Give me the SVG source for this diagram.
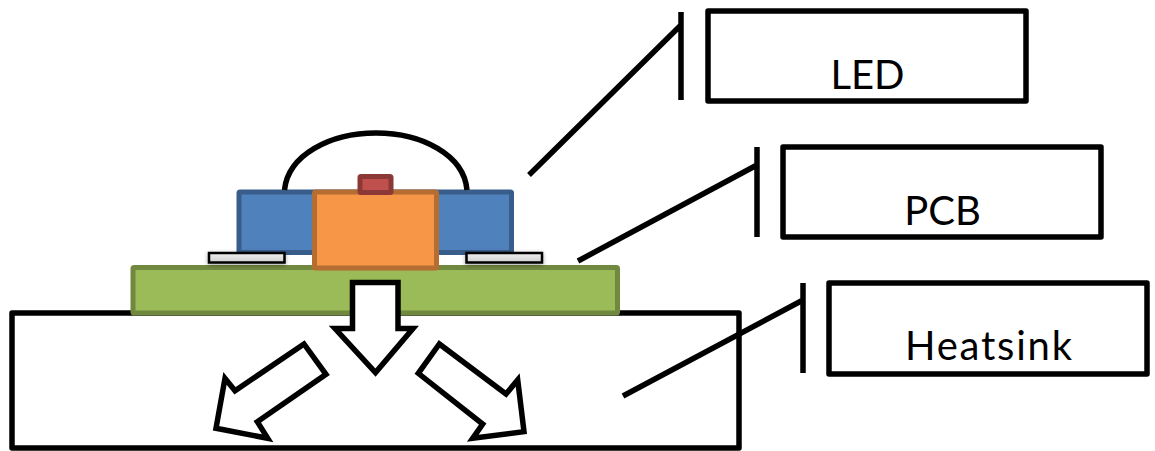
<svg xmlns="http://www.w3.org/2000/svg" width="1155" height="451" viewBox="0 0 1155 451">
<defs>
<linearGradient id="padfill" x1="0" y1="0" x2="0" y2="1"><stop offset="0" stop-color="#f0f0f0"/><stop offset="1" stop-color="#cfcfcf"/></linearGradient>
<filter id="soft" x="-10%" y="-60%" width="120%" height="240%"><feDropShadow dx="0" dy="1.500" stdDeviation="2" flood-color="#000" flood-opacity="0.350"/></filter>
</defs>
<style>
.k{fill:#fff;stroke:#000;stroke-width:5.500;stroke-linejoin:miter}
.b{fill:#fff;stroke:#000;stroke-width:5.500;stroke-linejoin:round}
.l{fill:none;stroke:#000;stroke-width:5.500}
.t{font-family:Lato,"Liberation Sans",sans-serif;font-size:40px;fill:#000;text-anchor:middle}
.p{fill:url(#padfill);stroke:#000;stroke-width:2.500;filter:url(#soft)}
</style>
<rect width="1155" height="451" fill="#fff"/>
<g id="heatsink"><rect class="b" x="12" y="313" width="727" height="135"/></g>
<g id="package">
<rect x="239" y="192" width="272.500" height="60.500" rx="1" fill="#4f81bd" stroke="#385d8a" stroke-width="5"/>
<path class="l" d="M284.500 190C288 155 330 133 376 133C422 133 464 155 467 190"/>
</g>
<g id="pcb"><rect x="133" y="267.500" width="484.500" height="45.500" rx="1" fill="#9bbb59" stroke="#71893f" stroke-width="5"/></g>
<g id="pad-left"><rect class="p" x="209" y="253" width="75.500" height="9.500"/></g>
<g id="pad-right"><rect class="p" x="466.500" y="253" width="75.500" height="9.500"/></g>
<g id="led-body"><rect x="314.500" y="192" width="122" height="76" rx="1" fill="#f79646" stroke="#b66d31" stroke-width="5"/></g>
<g id="die"><rect x="360" y="176.500" width="31" height="16" rx="1" fill="#c0504d" stroke="#8c3836" stroke-width="5"/></g>
<g id="arrows">
<path class="k" d="M352.500 282.500H398V328.500H413L375.500 372.500L335 328.500H352.500Z"/>
<path class="k" d="M304 344L326 374.300L257.300 421.700L267.700 438.300L216 428.300L225 378.300L235 390.700Z"/>
<path class="k" d="M439.300 344L418.300 373.300L482.700 424L472.700 438.300L524 431.700L517.700 380L506 394Z"/>
</g>
<g id="connectors">
<path class="l" d="M529 175L681 25M681 12V100"/>
<path class="l" d="M578 261L757 165M757 147V237"/>
<path class="l" d="M623 396L803 300M803 283V373"/>
</g>
<g id="label-led"><rect class="b" x="708" y="11" width="318" height="90"/><text class="t" x="867.500" y="89">LED</text></g>
<g id="label-pcb"><rect class="b" x="783" y="147" width="318" height="90"/><text class="t" x="942.500" y="225">PCB</text></g>
<g id="label-heatsink"><rect class="b" x="829" y="283" width="318" height="91"/><text class="t" x="988.500" y="360" textLength="167" lengthAdjust="spacing">Heatsink</text></g>
</svg>
